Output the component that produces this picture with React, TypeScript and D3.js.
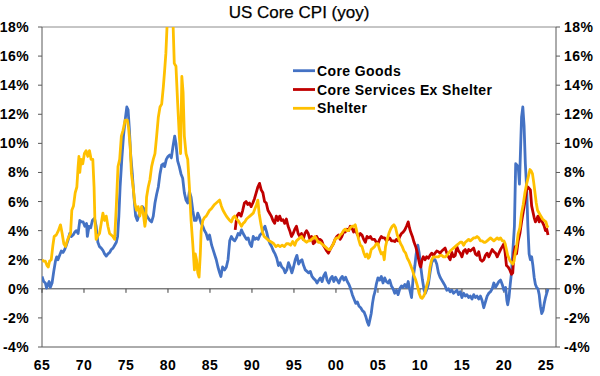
import React from "react";
import * as d3 from "d3";

// [year, yoy %]
const coreGoods: [number, number][] = [
  [1965.0,0.85],[1965.2,0.5],[1965.4,0.4],[1965.55,0.05],[1965.7,0.3],[1965.85,0.5],[1966.0,0.1],[1966.2,0.4],
  [1966.4,1.2],[1966.6,1.9],[1966.75,2.2],[1966.9,2.0],[1967.1,2.3],[1967.3,2.6],[1967.5,2.5],[1967.7,2.7],
  [1967.9,3.0],[1968.1,3.35],[1968.3,3.8],[1968.5,3.6],[1968.7,3.7],[1968.9,3.9],[1969.1,4.0],[1969.3,3.8],
  [1969.5,4.7],[1969.7,4.6],[1969.9,4.6],[1970.1,4.3],[1970.3,4.5],[1970.4,3.6],[1970.6,4.3],[1970.8,4.2],
  [1971.0,4.7],[1971.25,4.85],[1971.45,4.3],[1971.65,3.2],[1971.85,2.9],[1972.05,2.8],[1972.25,2.65],[1972.45,2.4],
  [1972.65,2.25],[1972.85,2.4],[1973.05,2.5],[1973.25,2.7],[1973.45,2.8],[1973.65,3.0],[1973.85,3.2],[1974.0,3.6],
  [1974.15,5.0],[1974.3,7.0],[1974.5,8.9],[1974.7,10.5],[1974.9,11.6],[1975.1,12.5],[1975.25,12.3],[1975.4,11.0],
  [1975.55,9.3],[1975.75,7.9],[1975.95,6.3],[1976.15,5.0],[1976.35,4.7],[1976.55,5.1],[1976.75,5.4],[1976.95,5.65],
  [1977.15,5.5],[1977.4,5.1],[1977.6,4.9],[1977.85,4.7],[1978.05,4.6],[1978.25,5.0],[1978.45,5.9],[1978.65,6.5],
  [1978.85,7.0],[1979.05,7.9],[1979.25,8.5],[1979.45,8.6],[1979.6,8.4],[1979.8,8.9],[1980.0,9.1],[1980.2,9.2],
  [1980.4,9.0],[1980.6,9.8],[1980.8,10.5],[1980.95,10.0],[1981.15,8.8],[1981.35,8.4],[1981.55,7.9],[1981.75,7.6],
  [1981.95,6.6],[1982.15,6.1],[1982.35,5.9],[1982.55,6.7],[1982.75,6.3],[1982.95,5.4],[1983.15,4.7],[1983.35,4.7],
  [1983.55,5.2],[1983.75,4.9],[1983.95,4.5],[1984.15,4.3],[1984.35,4.0],[1984.55,3.8],[1984.75,3.4],[1984.95,3.7],
  [1985.2,3.0],[1985.5,2.45],[1985.75,2.0],[1985.95,1.5],[1986.15,1.1],[1986.3,0.85],[1986.5,1.5],[1986.75,1.3],
  [1986.95,1.5],[1987.15,2.0],[1987.35,3.3],[1987.55,3.6],[1987.75,3.4],[1987.95,3.3],[1988.15,3.5],[1988.35,3.8],
  [1988.55,3.7],[1988.75,4.05],[1988.95,3.8],[1989.15,3.6],[1989.35,3.4],[1989.55,3.5],[1989.75,3.1],[1989.95,2.9],
  [1990.15,3.6],[1990.35,3.4],[1990.55,3.5],[1990.75,3.4],[1990.95,3.7],[1991.15,3.8],[1991.35,4.1],[1991.55,4.3],
  [1991.75,3.9],[1991.95,3.4],[1992.15,3.1],[1992.35,2.9],[1992.55,2.6],[1992.75,2.4],[1992.95,2.1],[1993.15,1.6],
  [1993.35,1.8],[1993.55,1.5],[1993.75,1.4],[1993.95,1.1],[1994.15,1.3],[1994.35,1.8],[1994.55,1.5],[1994.75,1.1],
  [1994.95,1.5],[1995.15,2.0],[1995.35,2.3],[1995.55,1.7],[1995.75,1.9],[1995.95,2.0],[1996.15,1.6],[1996.35,1.3],
  [1996.55,1.2],[1996.75,1.1],[1996.95,1.2],[1997.15,0.85],[1997.35,0.7],[1997.55,0.6],[1997.75,0.4],[1997.95,0.6],
  [1998.15,0.75],[1998.35,0.5],[1998.55,0.9],[1998.75,1.1],[1998.95,0.6],[1999.15,0.4],[1999.35,0.7],[1999.55,0.85],
  [1999.75,0.5],[1999.95,0.8],[2000.15,0.6],[2000.35,0.4],[2000.55,0.7],[2000.75,0.85],[2000.95,0.6],[2001.15,0.8],
  [2001.35,0.5],[2001.55,0.3],[2001.75,0.0],[2001.95,-0.4],[2002.15,-0.7],[2002.35,-1.0],[2002.55,-0.9],[2002.75,-1.2],
  [2002.95,-1.3],[2003.15,-1.5],[2003.35,-1.6],[2003.55,-1.9],[2003.75,-2.3],[2003.9,-2.5],[2004.05,-2.1],[2004.2,-1.7],
  [2004.35,-1.0],[2004.5,-0.5],[2004.65,-0.2],[2004.8,0.3],[2005.0,0.75],[2005.2,0.6],[2005.4,0.85],[2005.6,0.4],
  [2005.8,0.75],[2006.0,0.5],[2006.2,0.4],[2006.4,0.6],[2006.6,0.2],[2006.8,0.0],[2007.0,-0.3],[2007.2,-0.1],
  [2007.4,-0.4],[2007.6,0.0],[2007.8,0.2],[2008.0,0.1],[2008.2,0.3],[2008.4,0.1],[2008.6,0.5],[2008.8,-0.1],
  [2009.0,-0.6],[2009.2,0.8],[2009.4,1.6],[2009.55,2.4],[2009.75,3.0],[2009.9,2.5],[2010.1,1.5],[2010.3,0.6],
  [2010.5,-0.1],[2010.65,-0.3],[2010.85,0.0],[2011.0,0.3],[2011.2,1.1],[2011.4,1.8],[2011.6,2.0],[2011.8,2.0],
  [2012.0,1.7],[2012.2,1.1],[2012.4,0.8],[2012.6,0.6],[2012.8,0.4],[2013.0,0.2],[2013.2,-0.1],[2013.4,0.0],
  [2013.6,-0.2],[2013.8,-0.1],[2014.0,-0.3],[2014.2,-0.2],[2014.4,-0.1],[2014.6,-0.4],[2014.8,-0.2],[2015.0,-0.6],
  [2015.2,-0.3],[2015.4,-0.5],[2015.6,-0.4],[2015.8,-0.6],[2016.0,-0.5],[2016.2,-0.7],[2016.4,-0.4],[2016.6,-0.6],
  [2016.8,-0.5],[2017.0,-0.7],[2017.2,-0.5],[2017.4,-0.8],[2017.6,-1.3],[2017.8,-0.9],[2018.0,-0.5],[2018.2,-0.3],
  [2018.4,-0.2],[2018.6,0.0],[2018.8,0.4],[2019.0,0.1],[2019.2,0.3],[2019.4,0.5],[2019.6,0.6],[2019.8,0.3],
  [2020.0,-0.1],[2020.2,0.1],[2020.35,-0.8],[2020.45,-1.1],[2020.6,-0.6],[2020.75,0.3],[2020.9,1.1],[2021.05,2.5],
  [2021.25,4.3],[2021.4,8.6],[2021.55,8.5],[2021.7,8.4],[2021.85,7.2],[2022.0,10.0],[2022.1,11.8],[2022.25,12.5],
  [2022.4,11.2],[2022.55,8.6],[2022.7,7.0],[2022.85,4.3],[2023.0,2.4],[2023.15,2.0],[2023.3,2.2],[2023.45,1.6],
  [2023.6,0.8],[2023.75,0.3],[2023.9,0.1],[2024.05,0.0],[2024.2,-0.4],[2024.35,-1.2],[2024.5,-1.7],[2024.65,-1.5],
  [2024.8,-1.0],[2024.95,-0.6],[2025.1,-0.3],[2025.25,0.0],
];

const coreServicesExShelter: [number, number][] = [
  [1988.0,4.05],[1988.2,5.0],[1988.45,5.2],[1988.7,5.0],[1988.9,5.4],[1989.1,5.9],[1989.3,6.0],[1989.5,5.8],
  [1989.7,5.9],[1989.9,5.65],[1990.1,5.9],[1990.3,6.2],[1990.5,6.6],[1990.7,7.0],[1990.9,7.25],[1991.1,6.8],
  [1991.3,6.6],[1991.5,6.0],[1991.7,5.9],[1991.9,5.4],[1992.1,5.2],[1992.3,5.0],[1992.5,4.7],[1992.7,4.5],
  [1992.9,5.0],[1993.1,4.7],[1993.3,5.0],[1993.5,4.7],[1993.7,4.75],[1993.9,4.5],[1994.1,4.8],[1994.3,4.3],
  [1994.5,4.0],[1994.7,3.6],[1994.9,3.8],[1995.1,4.1],[1995.3,4.3],[1995.5,3.8],[1995.7,3.6],[1995.9,3.8],
  [1996.1,3.4],[1996.3,3.8],[1996.5,4.0],[1996.7,3.8],[1996.9,3.4],[1997.1,3.6],[1997.3,3.1],[1997.5,3.2],
  [1997.7,3.6],[1997.9,3.4],[1998.1,3.4],[1998.3,3.3],[1998.5,3.0],[1998.7,2.8],[1998.9,2.6],[1999.1,2.45],
  [1999.3,2.7],[1999.5,2.9],[1999.7,3.1],[1999.9,3.4],[2000.1,3.6],[2000.3,3.7],[2000.5,3.4],[2000.7,3.6],
  [2000.9,3.9],[2001.1,3.9],[2001.3,4.1],[2001.5,4.0],[2001.7,4.3],[2001.9,4.2],[2002.1,3.9],[2002.3,4.1],
  [2002.5,3.8],[2002.7,3.6],[2002.9,3.8],[2003.1,3.7],[2003.3,3.4],[2003.5,3.2],[2003.7,3.6],[2003.9,3.5],
  [2004.1,3.6],[2004.3,3.4],[2004.6,3.4],[2004.8,3.2],[2005.0,3.1],[2005.2,3.4],[2005.4,3.6],[2005.6,3.5],
  [2005.8,3.5],[2006.0,3.3],[2006.2,3.4],[2006.4,3.5],[2006.6,3.3],[2006.8,3.3],[2007.0,3.25],[2007.2,3.4],
  [2007.4,3.3],[2007.6,3.6],[2007.8,3.8],[2008.0,3.9],[2008.2,4.05],[2008.4,4.3],[2008.6,4.6],[2008.75,4.2],
  [2008.9,3.9],[2009.1,3.6],[2009.3,3.2],[2009.5,2.9],[2009.7,2.45],[2009.85,2.0],[2010.0,1.6],[2010.1,1.5],
  [2010.25,2.0],[2010.4,2.2],[2010.6,2.0],[2010.8,2.2],[2011.0,2.1],[2011.2,2.3],[2011.4,2.45],[2011.6,2.3],
  [2011.8,2.45],[2012.0,2.6],[2012.2,2.55],[2012.4,2.45],[2012.6,2.6],[2012.8,2.7],[2013.0,2.8],[2013.2,2.45],
  [2013.4,2.2],[2013.6,2.0],[2013.8,2.5],[2014.0,2.2],[2014.2,2.3],[2014.4,2.9],[2014.6,2.6],[2014.8,2.45],
  [2015.0,2.2],[2015.2,2.6],[2015.4,2.7],[2015.6,2.45],[2015.8,2.7],[2016.0,2.6],[2016.2,2.7],[2016.4,2.8],
  [2016.6,2.4],[2016.8,2.3],[2017.0,2.55],[2017.2,2.0],[2017.4,1.9],[2017.6,2.0],[2017.8,2.3],[2018.0,2.45],
  [2018.2,2.2],[2018.4,2.45],[2018.6,2.7],[2018.8,2.55],[2019.0,2.45],[2019.2,2.2],[2019.4,2.45],[2019.6,2.7],
  [2019.8,2.9],[2020.0,3.1],[2020.15,2.45],[2020.3,1.6],[2020.5,1.5],[2020.7,1.3],[2020.9,1.0],[2021.05,1.1],
  [2021.2,2.5],[2021.35,2.9],[2021.5,2.4],[2021.7,3.3],[2021.9,3.8],[2022.1,4.6],[2022.3,5.3],[2022.5,6.0],
  [2022.7,6.8],[2022.85,7.0],[2023.0,6.9],[2023.15,6.8],[2023.3,5.7],[2023.45,5.3],[2023.6,4.9],[2023.75,4.6],
  [2023.9,4.8],[2024.05,5.0],[2024.2,4.6],[2024.35,5.0],[2024.5,4.7],[2024.65,4.5],[2024.8,4.3],[2024.95,4.0],
  [2025.1,4.1],[2025.25,3.7],
];

const shelter: [number, number][] = [
  [1965.0,2.0],[1965.2,1.9],[1965.4,1.9],[1965.6,1.6],[1965.75,1.5],[1965.9,1.9],[1966.1,2.0],[1966.3,3.0],
  [1966.45,3.6],[1966.7,3.7],[1966.95,4.0],[1967.2,4.4],[1967.4,3.8],[1967.6,3.1],[1967.8,2.9],[1968.0,3.3],
  [1968.2,3.6],[1968.4,3.8],[1968.55,5.4],[1968.75,5.7],[1968.95,6.6],[1969.15,7.0],[1969.3,8.4],[1969.4,9.1],
  [1969.5,8.0],[1969.65,8.9],[1969.85,8.6],[1970.05,9.3],[1970.25,9.5],[1970.45,9.1],[1970.65,9.5],[1970.85,8.9],
  [1971.05,8.9],[1971.2,7.0],[1971.3,4.7],[1971.45,3.4],[1971.6,3.6],[1971.85,3.8],[1972.05,4.5],[1972.25,5.2],
  [1972.45,4.7],[1972.65,5.0],[1972.85,4.3],[1973.05,3.8],[1973.25,3.7],[1973.45,3.6],[1973.65,3.4],[1973.85,5.7],
  [1974.05,8.4],[1974.25,8.9],[1974.45,10.5],[1974.65,10.9],[1974.9,11.6],[1975.15,11.6],[1975.3,11.1],[1975.5,9.8],
  [1975.65,7.9],[1975.85,7.0],[1976.05,5.9],[1976.25,5.4],[1976.45,5.65],[1976.65,5.0],[1976.85,5.65],[1977.05,5.2],
  [1977.25,4.3],[1977.35,4.7],[1977.45,6.3],[1977.65,7.0],[1977.85,7.5],[1978.05,8.4],[1978.25,8.9],[1978.45,9.3],
  [1978.65,10.5],[1978.85,11.8],[1979.05,12.5],[1979.25,12.7],[1979.45,13.9],[1979.6,15.0],[1979.75,16.2],[1979.9,18.2],
  [1980.0,18.8],[1980.2,19.2],[1980.4,18.8],[1980.6,18.3],[1980.75,15.5],[1980.95,15.3],[1981.15,12.8],[1981.35,10.5],
  [1981.5,9.3],[1981.65,14.6],[1981.8,13.5],[1981.95,10.5],[1982.15,9.3],[1982.35,8.9],[1982.55,7.0],[1982.75,4.7],
  [1982.95,3.1],[1983.15,1.3],[1983.25,2.4],[1983.4,2.0],[1983.55,1.1],[1983.7,0.8],[1983.85,2.4],[1983.95,4.0],
  [1984.15,4.7],[1984.35,4.9],[1984.55,5.0],[1984.75,5.2],[1984.95,5.4],[1985.15,5.5],[1985.35,5.65],[1985.55,5.8],
  [1985.75,5.9],[1985.95,6.0],[1986.15,6.1],[1986.35,5.7],[1986.55,5.4],[1986.75,5.2],[1986.95,5.0],[1987.15,4.85],
  [1987.35,4.7],[1987.55,4.6],[1987.75,4.9],[1987.95,5.0],[1988.15,4.8],[1988.35,4.7],[1988.55,4.5],[1988.75,4.3],
  [1988.95,4.5],[1989.15,4.6],[1989.35,4.8],[1989.55,4.9],[1989.75,5.0],[1989.95,5.1],[1990.15,5.2],[1990.35,5.5],
  [1990.55,5.8],[1990.7,6.1],[1990.85,5.2],[1991.05,4.5],[1991.25,3.9],[1991.45,3.6],[1991.65,3.5],[1991.85,3.4],
  [1992.05,3.3],[1992.35,3.2],[1992.6,3.1],[1992.85,2.9],[1993.1,3.0],[1993.35,2.9],[1993.6,3.0],[1993.85,2.9],
  [1994.1,3.1],[1994.35,3.1],[1994.6,3.0],[1994.85,3.25],[1995.1,3.0],[1995.3,3.3],[1995.5,3.4],[1995.7,3.5],
  [1995.9,3.6],[1996.1,3.4],[1996.3,3.3],[1996.5,3.2],[1996.7,3.3],[1996.9,3.3],[1997.1,3.4],[1997.3,3.5],
  [1997.5,3.6],[1997.7,3.4],[1997.9,3.2],[1998.1,3.2],[1998.3,3.1],[1998.5,3.0],[1998.7,2.9],[1998.9,2.8],
  [1999.1,2.7],[1999.3,2.7],[1999.5,2.9],[1999.7,3.1],[1999.9,3.4],[2000.1,3.5],[2000.3,3.5],[2000.5,3.7],
  [2000.7,3.8],[2000.9,4.0],[2001.1,4.1],[2001.3,4.0],[2001.5,4.0],[2001.7,4.2],[2001.9,4.3],[2002.1,4.3],
  [2002.3,4.4],[2002.5,3.9],[2002.7,3.4],[2002.9,3.0],[2003.1,2.9],[2003.3,2.5],[2003.5,2.2],[2003.7,2.4],
  [2003.85,2.1],[2004.0,2.2],[2004.2,2.7],[2004.4,2.8],[2004.6,2.9],[2004.8,3.1],[2005.0,3.1],[2005.2,2.7],
  [2005.4,2.4],[2005.6,2.5],[2005.75,2.0],[2005.9,2.9],[2006.1,3.4],[2006.3,3.8],[2006.5,4.1],[2006.7,4.3],
  [2006.9,4.4],[2007.1,4.2],[2007.3,3.7],[2007.5,3.4],[2007.7,3.1],[2007.9,2.9],[2008.1,2.6],[2008.3,2.45],
  [2008.5,2.1],[2008.7,1.9],[2008.9,1.6],[2009.1,1.3],[2009.3,0.9],[2009.5,0.6],[2009.7,0.2],[2009.9,-0.3],
  [2010.1,-0.6],[2010.25,-0.65],[2010.45,-0.5],[2010.6,-0.3],[2010.8,0.2],[2011.0,0.6],[2011.2,1.5],[2011.4,2.0],
  [2011.6,2.2],[2011.8,2.2],[2012.0,2.2],[2012.2,2.2],[2012.4,2.3],[2012.6,2.3],[2012.8,2.2],[2013.0,2.2],
  [2013.2,2.3],[2013.4,2.45],[2013.6,2.6],[2013.8,2.7],[2014.0,2.8],[2014.2,2.9],[2014.4,3.0],[2014.6,3.1],
  [2014.8,3.2],[2015.0,3.2],[2015.2,3.0],[2015.4,3.2],[2015.6,3.3],[2015.8,3.4],[2016.0,3.3],[2016.2,3.4],
  [2016.4,3.5],[2016.6,3.5],[2016.8,3.6],[2017.0,3.5],[2017.2,3.3],[2017.4,3.3],[2017.6,3.2],[2017.8,3.2],
  [2018.0,3.3],[2018.2,3.4],[2018.4,3.5],[2018.6,3.4],[2018.8,3.3],[2019.0,3.4],[2019.2,3.5],[2019.4,3.4],
  [2019.6,3.5],[2019.8,3.3],[2020.0,3.3],[2020.15,3.1],[2020.3,2.7],[2020.45,2.3],[2020.6,2.1],[2020.75,1.9],
  [2020.9,1.8],[2021.05,1.7],[2021.2,1.9],[2021.35,2.45],[2021.5,2.9],[2021.7,3.8],[2021.9,4.2],[2022.1,5.2],
  [2022.3,5.8],[2022.5,6.6],[2022.7,7.2],[2022.9,7.7],[2023.1,8.2],[2023.25,8.1],[2023.4,7.9],[2023.55,7.3],
  [2023.7,6.6],[2023.85,5.9],[2024.0,5.4],[2024.2,5.2],[2024.4,5.0],[2024.6,4.8],[2024.8,4.7],[2025.0,4.6],
  [2025.15,4.3],[2025.25,4.2],
];

const seriesNames = ["Core Goods", "Core Services Ex Shelter", "Shelter"];
const seriesColors = ["#4472C4", "#C00000", "#FFC000"];
const yTickValues = [-4, -2, 0, 2, 4, 6, 8, 10, 12, 14, 16, 18];
const xTickYears = [1965, 1970, 1975, 1980, 1985, 1990, 1995, 2000, 2005, 2010, 2015, 2020, 2025];
const xTickLabels = ["65", "70", "75", "80", "85", "90", "95", "00", "05", "10", "15", "20", "25"];
const title = "US Core CPI (yoy)";

export default function App() {
  const W = 600, H = 376;
  const left = 42, right = 556, top = 27, bottom = 347;
  const x = d3.scaleLinear().domain([1965, 2026.2]).range([left, right]);
  const y = d3.scaleLinear().domain([-4, 18]).range([bottom, top]);
  const line = d3.line<[number, number]>().x(d => x(d[0])).y(d => y(d[1]));
  const allSeries = [coreGoods, coreServicesExShelter, shelter];
  const font = "'Liberation Sans', Arial, sans-serif";
  const axisColor = "#595959";

  return (
    <svg width={W} height={H} style={{ position: "absolute", left: 0, top: 0 }} fontFamily={font}>
      <rect x={0} y={0} width={W} height={H} fill="#fff" />
      <text x={299} y={17.5} textAnchor="middle" fontSize={17} fill="#000" stroke="#000" strokeWidth={0.25}>{title}</text>
      <defs>
        <clipPath id="plotclip">
          <rect x={left} y={top} width={right - left} height={bottom - top} />
        </clipPath>
      </defs>
      <line x1={left} x2={right} y1={top} y2={top} stroke="#8c8c8c" strokeWidth={1} />
      <line x1={left} x2={right} y1={bottom} y2={bottom} stroke={axisColor} strokeWidth={1} />
      <line x1={left} x2={left} y1={top} y2={bottom} stroke={axisColor} strokeWidth={1} />
      <line x1={right} x2={right} y1={top} y2={bottom} stroke={axisColor} strokeWidth={1} />
      <line x1={left} x2={right} y1={y(0)} y2={y(0)} stroke="#404040" strokeWidth={1} />
      {xTickYears.map(yr => (
        <line key={"xt" + yr} x1={x(yr)} x2={x(yr)} y1={y(0)} y2={y(0) + 4} stroke="#404040" strokeWidth={1} />
      ))}
      {yTickValues.map(v => (
        <g key={"yt" + v}>
          <line x1={left - 4} x2={left} y1={y(v)} y2={y(v)} stroke={axisColor} />
          <line x1={right} x2={right + 4} y1={y(v)} y2={y(v)} stroke={axisColor} />
          <text x={29} y={y(v)} dy="0.36em" textAnchor="end" fontSize={14} fontWeight="bold" letterSpacing={0.4} fill="#000">{v}%</text>
          <text x={564} y={y(v)} dy="0.36em" textAnchor="start" fontSize={14} fontWeight="bold" letterSpacing={0.4} fill="#000">{v}%</text>
        </g>
      ))}
      {xTickYears.map((yr, i) => (
        <text key={"xl" + yr} x={x(yr)} y={369.5} textAnchor="middle" fontSize={14} fontWeight="bold" letterSpacing={0.4} fill="#000">{xTickLabels[i]}</text>
      ))}
      <g clipPath="url(#plotclip)">
        {allSeries.map((s, i) => (
          <path key={"s" + i} d={line(s) || ""} fill="none" stroke={seriesColors[i]} strokeWidth={2.8} strokeLinejoin="round" />
        ))}
      </g>
      {seriesNames.map((n, i) => (
        <g key={"lg" + i}>
          <line x1={293} x2={315} y1={70.7 + i * 18.8} y2={70.7 + i * 18.8} stroke={seriesColors[i]} strokeWidth={2.8} />
          <text x={317} y={70.7 + i * 18.8} dy="0.36em" fontSize={14} fontWeight="bold" letterSpacing={0.4} fill="#000">{n}</text>
        </g>
      ))}
    </svg>
  );
}
